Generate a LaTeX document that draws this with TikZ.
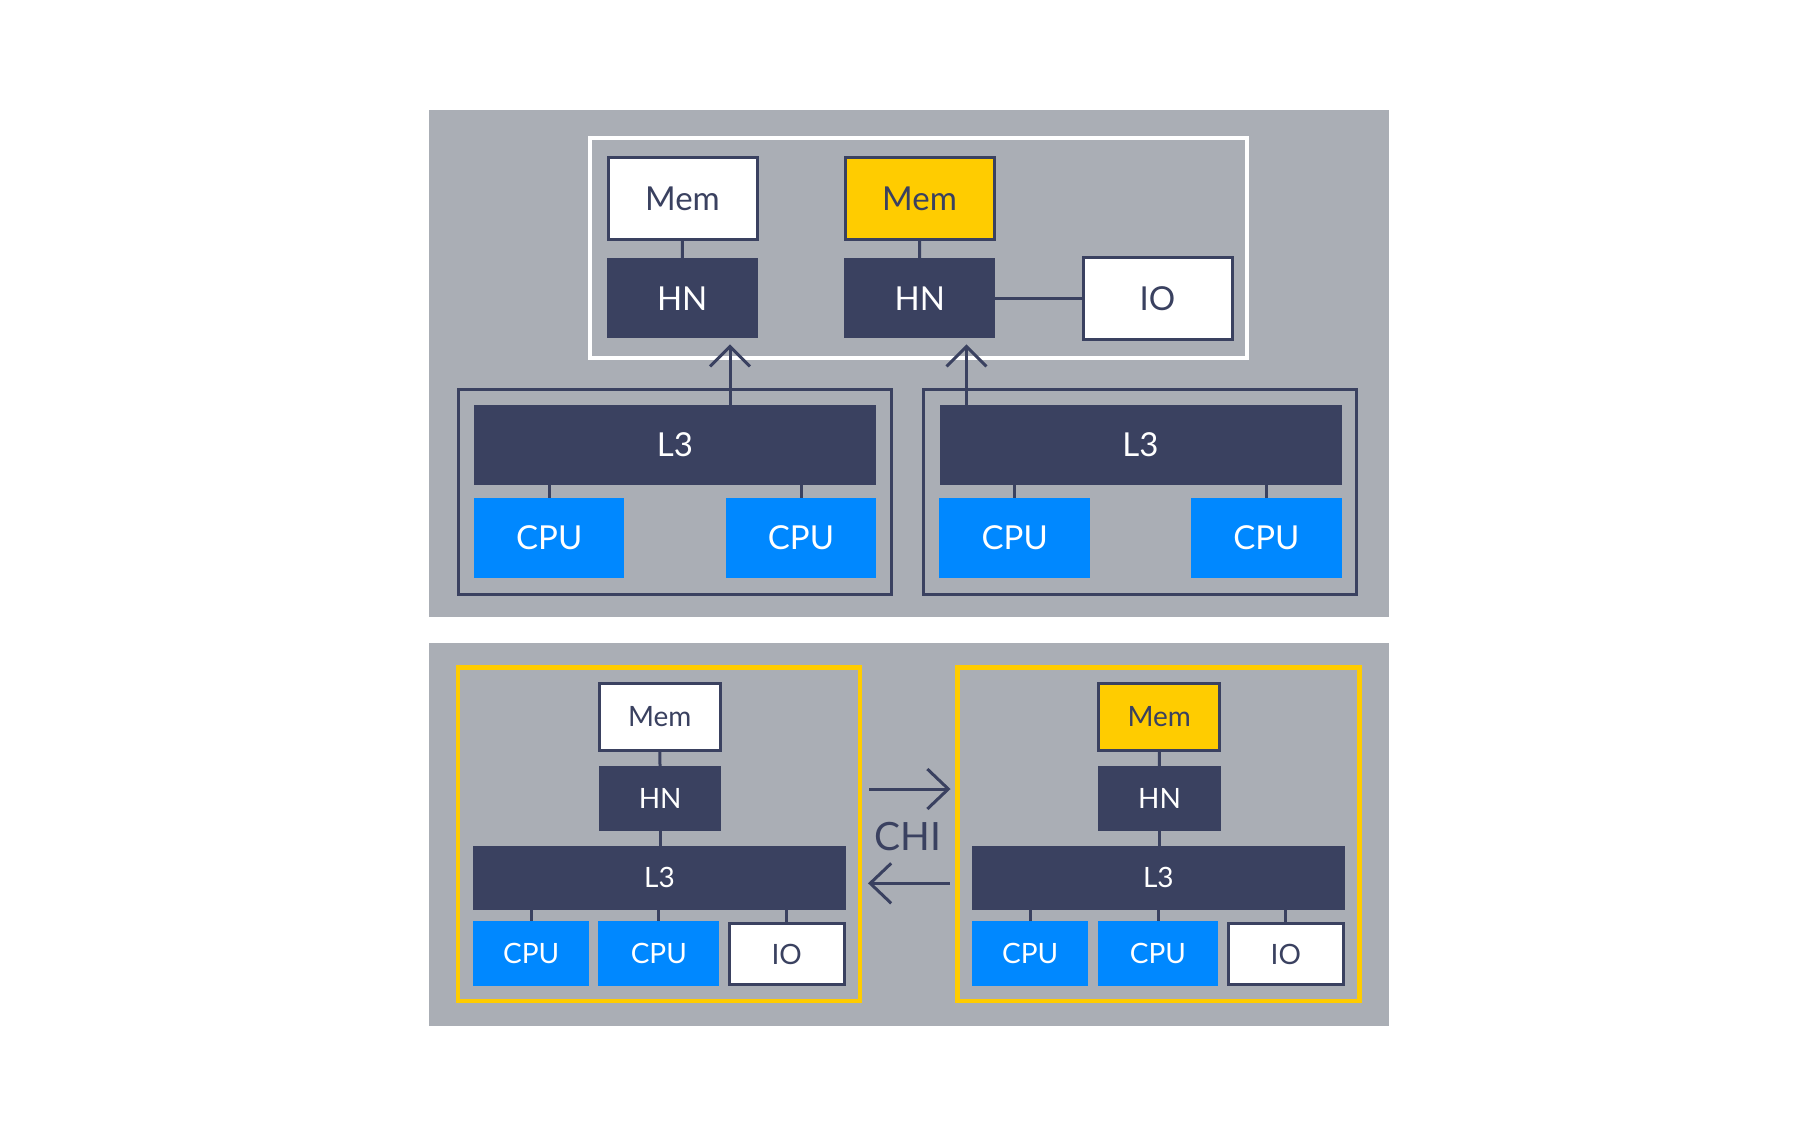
\documentclass[tikz,border=0pt]{standalone}
\usepackage{fontspec}
\setmainfont{Lato}
\usetikzlibrary{arrows.meta}
\definecolor{panelgray}{RGB}{170,174,181}
\definecolor{navy}{RGB}{58,65,96}
\definecolor{cpublue}{RGB}{0,136,255}
\definecolor{memyellow}{RGB}{255,204,0}
\tikzset{
  box/.style={inner sep=0pt, outer sep=0pt, font=\fontsize{33}{36}\selectfont},
  smallbox/.style={inner sep=0pt, outer sep=0pt, font=\fontsize{28}{30}\selectfont},
  whitebox/.style={draw=navy, line width=3pt, fill=white, text=navy},
  yellowbox/.style={draw=navy, line width=3pt, fill=memyellow, text=navy},
  darkbox/.style={fill=navy, text=white},
  bluebox/.style={fill=cpublue, text=white},
  groupframe/.style={draw=navy, line width=3pt, inner sep=0pt, outer sep=0pt},
  whiteframe/.style={draw=white, line width=4pt, inner sep=0pt, outer sep=0pt},
  yellowframe/.style={draw=memyellow, line width=4.5pt, inner sep=0pt, outer sep=0pt},
  link/.style={draw=navy, line width=3pt},
  uparrow/.style={draw=navy, line width=3pt, -{Straight Barb[length=20pt,width=40pt,line width=3pt]}},
  chiarrow/.style={draw=navy, line width=3pt, -{Straight Barb[length=21pt,width=40pt,line width=3pt]}},
}
\begin{document}
\begin{tikzpicture}[x=1pt,y=-1pt]
\useasboundingbox (0,0) rectangle (1819,1137);
\fill[white] (0,0) rectangle (1819,1137);
% panels
\fill[panelgray] (429,110) rectangle (1388.5,616.7);
\fill[panelgray] (429,643.3) rectangle (1388.5,1026);

% ===== top panel =====
\node[whiteframe, minimum width=657.3, minimum height=220] (wf) at (918.2,248) {};
\node[box, whitebox, minimum width=149, minimum height=82] (mem1) at (682.5,198.7) {Mem};
\node[box, yellowbox, minimum width=149, minimum height=82] (mem2) at (919.5,198.7) {Mem};
\node[box, darkbox, minimum width=151, minimum height=80] (hn1) at (682.2,298.3) {HN};
\node[box, darkbox, minimum width=151, minimum height=80] (hn2) at (919.8,298.3) {HN};
\node[box, whitebox, minimum width=149, minimum height=82] (io) at (1157.5,298.3) {IO};
\draw[link] (mem1) -- (hn1);
\draw[link] (mem2) -- (hn2);
\draw[link] (hn2) -- (io);

\node[groupframe, minimum width=433.6, minimum height=204.4] (ga) at (675,492) {};
\node[groupframe, minimum width=433, minimum height=204.4] (gb) at (1140.3,492) {};
\node[box, darkbox, minimum width=402, minimum height=80] (l3a) at (675,444.5) {L3};
\node[box, darkbox, minimum width=402, minimum height=80] (l3b) at (1140.5,444.5) {L3};
\node[box, bluebox, minimum width=150.3, minimum height=80] (ca1) at (549.2,537.7) {CPU};
\node[box, bluebox, minimum width=150.3, minimum height=80] (ca2) at (801,537.7) {CPU};
\node[box, bluebox, minimum width=150.7, minimum height=80] (cb1) at (1014.7,537.7) {CPU};
\node[box, bluebox, minimum width=150.7, minimum height=80] (cb2) at (1266.4,537.7) {CPU};
\draw[link] (l3a.south -| ca1) -- (ca1);
\draw[link] (l3a.south -| ca2) -- (ca2);
\draw[link] (l3b.south -| cb1) -- (cb1);
\draw[link] (l3b.south -| cb2) -- (cb2);
\draw[uparrow] (l3a.north -| 730,0) -- ([yshift=-6pt]hn1.south -| 730,0);
\draw[uparrow] (l3b.north -| 966.5,0) -- ([yshift=-6pt]hn2.south -| 966.5,0);

% ===== bottom panel =====
\node[yellowframe, minimum width=402, minimum height=333.5] (yl) at (659,834.3) {};
\node[yellowframe, minimum width=402, minimum height=333.5] (yr) at (1158.5,834.3) {};

\node[smallbox, whitebox, minimum width=121, minimum height=66.4] (bmem1) at (659.7,717) {Mem};
\node[smallbox, darkbox, minimum width=122.3, minimum height=64.7] (bhn1) at (660.2,798.3) {HN};
\node[smallbox, darkbox, minimum width=372.4, minimum height=64.3] (bl31) at (659.5,877.8) {L3};
\node[smallbox, bluebox, minimum width=115.7, minimum height=64.7] (bc11) at (531.2,953.7) {CPU};
\node[smallbox, bluebox, minimum width=121, minimum height=64.7] (bc12) at (658.8,953.7) {CPU};
\node[smallbox, whitebox, minimum width=115, minimum height=61] (bio1) at (786.7,954) {IO};

\node[smallbox, yellowbox, minimum width=121, minimum height=66.4] (bmem2) at (1159.2,717) {Mem};
\node[smallbox, darkbox, minimum width=122.3, minimum height=64.7] (bhn2) at (1159.5,798.3) {HN};
\node[smallbox, darkbox, minimum width=372.4, minimum height=64.3] (bl32) at (1158.3,877.8) {L3};
\node[smallbox, bluebox, minimum width=116, minimum height=64.7] (bc21) at (1030.1,953.7) {CPU};
\node[smallbox, bluebox, minimum width=120.7, minimum height=64.7] (bc22) at (1158,953.7) {CPU};
\node[smallbox, whitebox, minimum width=114.6, minimum height=61] (bio2) at (1285.8,954) {IO};

\foreach \m/\h/\l/\a/\b/\c in {bmem1/bhn1/bl31/bc11/bc12/bio1, bmem2/bhn2/bl32/bc21/bc22/bio2}{
  \draw[link] (\m) -- (\h);
  \draw[link] (\h) -- (\h |- \l.north);
  \draw[link] (\l.south -| \a) -- (\a);
  \draw[link] (\l.south -| \b) -- (\b);
  \draw[link] (\l.south -| \c) -- (\c.north);
}

% CHI link
\draw[chiarrow] ([xshift=9pt]yl.east |- 0,789) -- ([xshift=-7pt]yr.west |- 0,789);
\draw[chiarrow] ([xshift=-8pt]yr.west |- 0,883.3) -- ([xshift=8pt]yl.east |- 0,883.3);
\node[text=navy, font=\fontsize{39}{42}\selectfont, inner sep=0pt, anchor=base] (chi) at (908,850) {CHI};
\end{tikzpicture}
\end{document}
